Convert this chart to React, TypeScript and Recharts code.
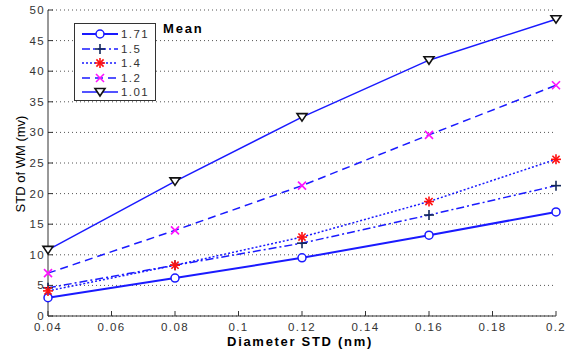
import { CartesianGrid, Line, LineChart, XAxis, YAxis } from "recharts";

const diameterStd = [0.04, 0.08, 0.12, 0.16, 0.2];
const mean171 = [3.0, 6.2, 9.5, 13.2, 17.0];
const mean15 = [4.6, 8.3, 11.9, 16.5, 21.3];
const mean14 = [4.1, 8.3, 12.9, 18.7, 25.6];
const mean12 = [7.0, 14.0, 21.3, 29.6, 37.7];
const mean101 = [10.8, 22.0, 32.5, 41.8, 48.5];
const xTicks = [0.04, 0.06, 0.08, 0.1, 0.12, 0.14, 0.16, 0.18, 0.2];
const yTicks = [0, 5, 10, 15, 20, 25, 30, 35, 40, 45, 50];

const BLUE = "#1a1aff";
const FONT = "'Liberation Sans', Arial, sans-serif";

type MarkerKind = "circle" | "plus" | "star" | "cross" | "tri";

function Marker({ kind, cx, cy }: { kind: MarkerKind; cx: number; cy: number }) {
  if (kind === "circle")
    return <circle cx={cx} cy={cy} r={4} fill="white" stroke={BLUE} strokeWidth={1.5} />;
  if (kind === "plus")
    return (
      <g stroke="#14285a" strokeWidth={1.6}>
        <line x1={cx - 5} y1={cy} x2={cx + 5} y2={cy} />
        <line x1={cx} y1={cy - 5} x2={cx} y2={cy + 5} />
      </g>
    );
  if (kind === "star")
    return (
      <g stroke="#ff1010" strokeWidth={1.6}>
        <line x1={cx - 5} y1={cy} x2={cx + 5} y2={cy} />
        <line x1={cx} y1={cy - 5} x2={cx} y2={cy + 5} />
        <line x1={cx - 3.6} y1={cy - 3.6} x2={cx + 3.6} y2={cy + 3.6} />
        <line x1={cx - 3.6} y1={cy + 3.6} x2={cx + 3.6} y2={cy - 3.6} />
      </g>
    );
  if (kind === "cross")
    return (
      <g stroke="#ff10ff" strokeWidth={1.6}>
        <line x1={cx - 4} y1={cy - 4} x2={cx + 4} y2={cy + 4} />
        <line x1={cx - 4} y1={cy + 4} x2={cx + 4} y2={cy - 4} />
      </g>
    );
  return (
    <path
      d={`M${cx - 5},${cy - 3.5} L${cx + 5},${cy - 3.5} L${cx},${cy + 4} Z`}
      fill="white"
      stroke="#111"
      strokeWidth={1.6}
    />
  );
}

const series = [
  { key: "m171", name: "1.71", values: mean171, marker: "circle" as MarkerKind, dash: undefined, width: 2 },
  { key: "m15", name: "1.5", values: mean15, marker: "plus" as MarkerKind, dash: "8 3 2 3", width: 1.5 },
  { key: "m14", name: "1.4", values: mean14, marker: "star" as MarkerKind, dash: "2 2", width: 1.5 },
  { key: "m12", name: "1.2", values: mean12, marker: "cross" as MarkerKind, dash: "8 5", width: 1.5 },
  { key: "m101", name: "1.01", values: mean101, marker: "tri" as MarkerKind, dash: undefined, width: 1.5 },
];

const data = diameterStd.map((x, i) => {
  const row: Record<string, number> = { x };
  series.forEach((s) => (row[s.key] = s.values[i]));
  return row;
});

export default function App() {
  const tickStyle = { fill: "#333", fontSize: 11.5, fontFamily: FONT, letterSpacing: 1.4 };
  return (
    <div style={{ position: "fixed", left: 0, top: 0, width: 566, height: 352, background: "white" }}>
      <LineChart width={566} height={352} data={data} margin={{ top: 10, right: 10, bottom: 6, left: 0 }}>
        <CartesianGrid vertical={false} stroke="#555" strokeDasharray="1 3" />
        <XAxis
          dataKey="x"
          type="number"
          domain={[0.04, 0.2]}
          ticks={xTicks}
          height={30}
          tickSize={-5}
          tickMargin={12}
          stroke="#333"
          tick={tickStyle}
          interval={0}
        />
        <XAxis
          xAxisId="top"
          dataKey="x"
          type="number"
          orientation="top"
          domain={[0.04, 0.2]}
          ticks={xTicks}
          height={0}
          tickSize={-5}
          stroke="#333"
          tickFormatter={() => ""}
          interval={0}
        />
        <YAxis
          domain={[0, 50]}
          ticks={yTicks}
          width={48}
          tickSize={-5}
          tickMargin={8}
          stroke="#333"
          tick={tickStyle}
          interval={0}
        />
        <YAxis
          yAxisId="right"
          orientation="right"
          domain={[0, 50]}
          ticks={yTicks}
          width={0}
          tickSize={-5}
          stroke="#333"
          tickFormatter={() => ""}
          interval={0}
        />
        {series.map((s) => (
          <Line
            key={s.key}
            dataKey={s.key}
            name={s.name}
            stroke={BLUE}
            strokeWidth={s.width}
            strokeDasharray={s.dash}
            isAnimationActive={false}
            dot={(p: any) => <Marker key={`${s.key}-${p.index}`} kind={s.marker} cx={p.cx} cy={p.cy} />}
            activeDot={false}
          />
        ))}
      </LineChart>

      <div
        style={{
          position: "absolute",
          left: 74,
          top: 23,
          width: 80,
          height: 76,
          border: "1px solid #333",
          background: "white",
          fontFamily: FONT,
          fontSize: 11.5,
          letterSpacing: 1.4,
          color: "#333",
        }}
      >
        {series.map((s, i) => (
          <div key={s.key} style={{ position: "absolute", left: 0, top: 3 + i * 14.5, height: 14, width: 80 }}>
            <svg width={40} height={14} style={{ position: "absolute", left: 6, top: 0 }}>
              <line x1={1} y1={7} x2={37} y2={7} stroke={BLUE} strokeWidth={s.width} strokeDasharray={s.dash} />
              <Marker kind={s.marker} cx={19} cy={7} />
            </svg>
            <span style={{ position: "absolute", left: 46, top: 0, lineHeight: "14px" }}>{s.name}</span>
          </div>
        ))}
      </div>

      <div
        style={{
          position: "absolute",
          left: 163,
          top: 21,
          fontFamily: FONT,
          fontSize: 13,
          letterSpacing: 1.8,
          fontWeight: "bold",
        }}
      >
        Mean
      </div>

      <div
        style={{
          position: "absolute",
          left: 300,
          top: 334,
          transform: "translateX(-50%)",
          fontFamily: FONT,
          fontSize: 13,
          letterSpacing: 1.7,
          fontWeight: "bold",
          whiteSpace: "nowrap",
        }}
      >
        Diameter STD (nm)
      </div>

      <div
        style={{
          position: "absolute",
          left: 20,
          top: 164,
          transform: "translate(-50%, -50%) rotate(-90deg)",
          fontFamily: FONT,
          fontSize: 13,
          whiteSpace: "nowrap",
        }}
      >
        STD of WM (mv)
      </div>
    </div>
  );
}
